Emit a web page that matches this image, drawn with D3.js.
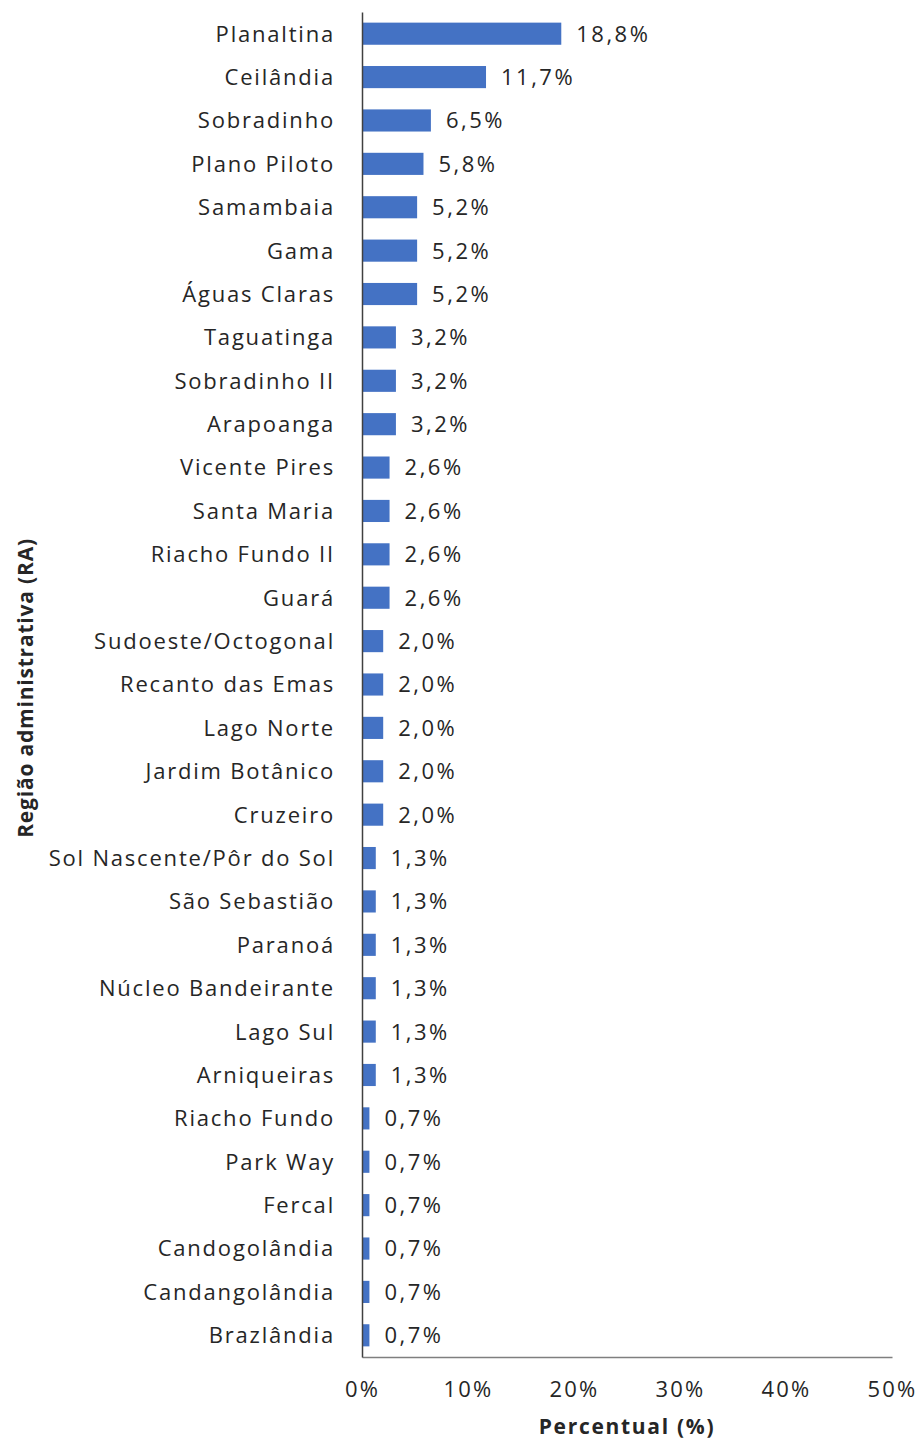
<!DOCTYPE html>
<html>
<head>
<meta charset="utf-8">
<script src="https://cdn.jsdelivr.net/npm/d3@7"></script>
<style>
  body { margin: 0; background: #fff; }
  text { font-family: "Open Sans", sans-serif; fill: #262626; }
</style>
</head>
<body>
<div id="chart"></div>
<script>
// regions, sorted as in the source
const regions = [
  "Planaltina", "Ceilândia", "Sobradinho", "Plano Piloto", "Samambaia", "Gama",
  "Águas Claras", "Taguatinga", "Sobradinho II", "Arapoanga", "Vicente Pires",
  "Santa Maria", "Riacho Fundo II", "Guará", "Sudoeste/Octogonal", "Recanto das Emas",
  "Lago Norte", "Jardim Botânico", "Cruzeiro", "Sol Nascente/Pôr do Sol",
  "São Sebastião", "Paranoá", "Núcleo Bandeirante", "Lago Sul", "Arniqueiras",
  "Riacho Fundo", "Park Way", "Fercal", "Candogolândia", "Candangolândia", "Brazlândia"
];
const percents = [
  18.8, 11.7, 6.5, 5.8, 5.2, 5.2, 5.2, 3.2, 3.2, 3.2, 2.6, 2.6, 2.6, 2.6,
  2.0, 2.0, 2.0, 2.0, 2.0, 1.3, 1.3, 1.3, 1.3, 1.3, 1.3, 0.7, 0.7, 0.7, 0.7, 0.7, 0.7
];
const xTicks = [0, 10, 20, 30, 40, 50];

const data = regions.map((r, i) => ({ region: r, value: percents[i] }));

const W = 920, H = 1441;
const margin = { top: 12, right: 28, bottom: 84, left: 362 };
const width = W - margin.left - margin.right;
const height = H - margin.top - margin.bottom;

const svg = d3.select("#chart")
  .append("svg")
  .attr("width", W)
  .attr("height", H);

const g = svg.append("g")
  .attr("transform", `translate(${margin.left},${margin.top})`);

const x = d3.scaleLinear().domain([0, 50]).range([0, width]);
const y = d3.scaleBand()
  .domain(regions)
  .range([0, height])
  .paddingInner(0.49)
  .paddingOuter(0.245);

// bars
g.selectAll(".bar")
  .data(data)
  .enter()
  .append("rect")
  .attr("class", "bar")
  .attr("x", 0)
  .attr("y", d => y(d.region))
  .attr("width", d => x(d.value))
  .attr("height", y.bandwidth())
  .attr("fill", "#4472c4");

// value labels
g.selectAll(".val")
  .data(data)
  .enter()
  .append("text")
  .attr("class", "val")
  .attr("x", d => x(d.value) + 15)
  .attr("y", d => y(d.region) + y.bandwidth() / 2)
  .attr("dy", "0.36em")
  .style("font-size", "22px")
  .style("letter-spacing", "2.5px")
  .text(d => d.value.toFixed(1).replace(".", ",") + "%");

// x axis
const xAxis = g.append("g")
  .attr("transform", `translate(0,${height})`)
  .call(d3.axisBottom(x).tickValues(xTicks).tickSize(0).tickPadding(24)
    .tickFormat(d => d + "%"));
xAxis.select(".domain").attr("stroke", "#7f7f7f").attr("stroke-width", 1.3);
xAxis.selectAll("text")
  .style("font-size", "22px")
  .style("letter-spacing", "2.2px")
  .style("font-family", "'Open Sans', sans-serif")
  .attr("fill", "#262626");

// y axis
const yAxis = g.append("g")
  .call(d3.axisLeft(y).tickSize(0).tickPadding(27));
yAxis.select(".domain").attr("stroke", "#404040").attr("stroke-width", 1.5);
yAxis.selectAll("text")
  .attr("dy", "0.36em")
  .style("font-size", "22px")
  .style("letter-spacing", "1.8px")
  .style("font-family", "'Open Sans', sans-serif")
  .attr("fill", "#262626");

// axis titles
svg.append("text")
  .attr("x", margin.left + width / 2)
  .attr("y", 1434)
  .attr("text-anchor", "middle")
  .style("font-size", "21px")
  .style("font-weight", "bold")
  .style("letter-spacing", "1.7px")
  .text("Percentual (%)");

svg.append("text")
  .attr("transform", `translate(33,${688}) rotate(-90)`)
  .attr("text-anchor", "middle")
  .style("font-size", "21px")
  .style("font-weight", "bold")
  .style("letter-spacing", "0.8px")
  .text("Região administrativa (RA)");
</script>
</body>
</html>
